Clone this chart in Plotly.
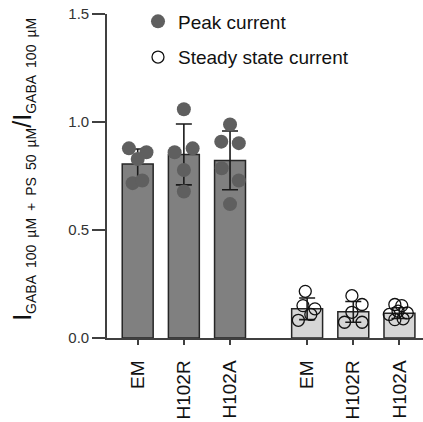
import plotly.graph_objects as go

# ---- data ----
categories = ["EM", "H102R", "H102A"]
peak_pos = [0, 1, 2]
steady_pos = [3.67, 4.67, 5.67]

peak_mean = [0.805, 0.850, 0.822]
peak_sd = [0.070, 0.141, 0.136]
steady_mean = [0.135, 0.121, 0.115]
steady_sd = [0.050, 0.048, 0.025]

peak_points = [
    [0.878, 0.860, 0.829, 0.717, 0.729],
    [1.059, 0.860, 0.878, 0.778, 0.678],
    [0.989, 0.909, 0.902, 0.786, 0.729, 0.620],
]
peak_jitter = [
    [-0.19, 0.19, 0.0, -0.11, 0.10],
    [0.0, -0.20, 0.19, 0.0, 0.0],
    [0.0, -0.19, 0.19, -0.18, 0.19, 0.0],
]
steady_points = [
    [0.216, 0.150, 0.135, 0.082, 0.109],
    [0.196, 0.155, 0.119, 0.073, 0.073],
    [0.155, 0.150, 0.124, 0.109, 0.116, 0.085, 0.089],
]
steady_jitter = [
    [-0.04, -0.09, 0.17, -0.19, 0.08],
    [-0.03, 0.19, -0.03, -0.19, 0.19],
    [-0.10, 0.05, -0.03, -0.22, 0.17, -0.10, 0.08],
]
y_ticks = [0.0, 0.5, 1.0, 1.5]
y_ticktext = ["0.0", "0.5", "1.0", "1.5"]

FONT = "Arial, Liberation Sans, sans-serif"
SP = "\u2002"

fig = go.Figure()

err_style = dict(type="data", visible=True, color="#1a1a1a", thickness=1.6, width=8)

fig.add_trace(go.Bar(
    x=peak_pos, y=peak_mean, width=0.67,
    marker=dict(color="#808080", line=dict(color="#262626", width=1.5)),
    error_y=dict(array=peak_sd, **err_style),
    showlegend=False, hoverinfo="skip",
))
fig.add_trace(go.Bar(
    x=steady_pos, y=steady_mean, width=0.67,
    marker=dict(color="#d6d6d6", line=dict(color="#262626", width=1.5)),
    error_y=dict(array=steady_sd, **err_style),
    showlegend=False, hoverinfo="skip",
))

px, py = [], []
for c, pts, jit in zip(peak_pos, peak_points, peak_jitter):
    for v, j in zip(pts, jit):
        px.append(c + j)
        py.append(v)
fig.add_trace(go.Scatter(
    x=px, y=py, mode="markers", name="Peak current",
    legendgroup="a",
    marker=dict(size=14, color="#5f5f5f", line=dict(width=0)),
))

sx, sy = [], []
for c, pts, jit in zip(steady_pos, steady_points, steady_jitter):
    for v, j in zip(pts, jit):
        sx.append(c + j)
        sy.append(v)
fig.add_trace(go.Scatter(
    x=sx, y=sy, mode="markers", name="Steady state current",
    legendgroup="b",
    marker=dict(size=12, color="rgba(255,255,255,0)", symbol="circle",
                line=dict(width=1.3, color="#111111")),
))

sub1 = SP.join(["GABA", "100", "µM", "+", "PS", "50", "µM"])
sub2 = SP.join(["GABA", "100", "µM"])
ytitle = ("<span style='font-size:25px'>I</span><sub><span style='font-size:14px'>"
          + sub1 + "</span></sub><span style='font-size:25px'>/I</span>"
          "<sub><span style='font-size:14px'>" + sub2 + "</span></sub>")

fig.add_annotation(
    text=ytitle, textangle=-90, showarrow=False,
    xref="paper", yref="paper",
    x=(24 - 107) / 316, y=0.519, xanchor="center", yanchor="middle",
    font=dict(size=25, color="#111111", family=FONT),
)

fig.update_layout(
    width=423, height=422,
    margin=dict(l=107, r=0, t=14, b=84, autoexpand=False),
    paper_bgcolor="white", plot_bgcolor="white",
    font=dict(family=FONT, color="#222222"),
    barmode="overlay",
    legend=dict(xref="container", yref="container",
                x=138 / 423, y=1 - 2.5 / 422, xanchor="left", yanchor="top",
                font=dict(size=19, color="#111111"),
                tracegroupgap=8, bgcolor="rgba(0,0,0,0)"),
    xaxis=dict(
        range=[-0.665, 6.18],
        tickvals=peak_pos + steady_pos,
        ticktext=categories + categories,
        tickangle=-90,
        tickfont=dict(size=19, color="#111111"),
        ticks="outside", ticklen=5, tickwidth=1.5, tickcolor="#404040",
        ticklabelstandoff=8,
        showline=True, linecolor="#404040", linewidth=1.6,
        showgrid=False, zeroline=False, automargin=False,
    ),
    yaxis=dict(
        range=[0, 1.5],
        tickvals=y_ticks, ticktext=y_ticktext,
        tickfont=dict(size=15, color="#333333"),
        ticks="outside", ticklen=13, tickwidth=1.5, tickcolor="#404040",
        showline=True, linecolor="#404040", linewidth=1.6,
        showgrid=False, zeroline=False, automargin=False,
    ),
)

fig.write_html("out.html", config={"displayModeBar": False},
               post_script="document.body.style.margin='0';")
